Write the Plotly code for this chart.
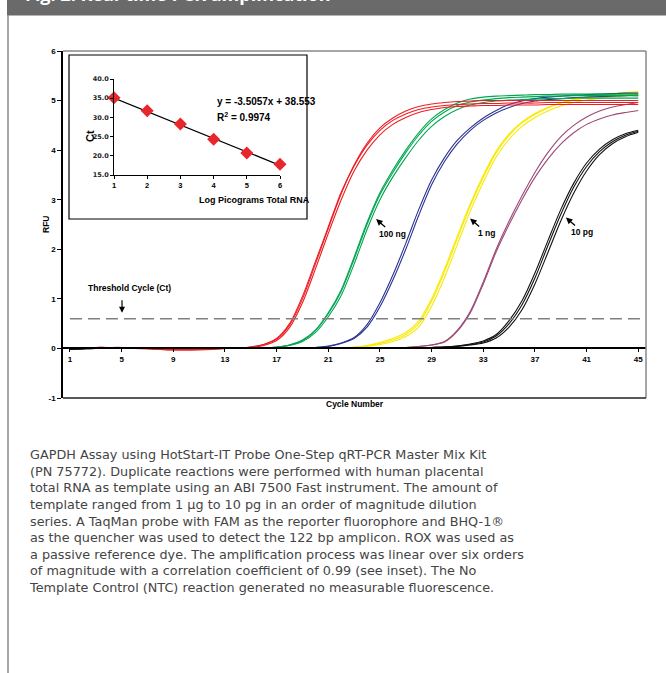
import plotly.graph_objects as go

# ---------------- data ----------------
cycles = list(range(1, 46))

red_a = [0.0, 0.01, 0.02, 0.02, 0.02, 0.01, 0.0, -0.02, -0.03, -0.03, -0.03, -0.02, 0.0, 0.01, 0.03,
         0.08, 0.2, 0.5, 1.05, 1.75, 2.45, 3.15, 3.68, 4.1, 4.4, 4.6, 4.73, 4.82, 4.87, 4.9,
         4.92, 4.93, 4.94, 4.94, 4.95, 4.95, 4.95, 4.96, 4.96, 4.96, 4.96, 4.96, 4.96, 4.96, 4.96]
red_b = [0.0, 0.01, 0.02, 0.02, 0.01, 0.0, -0.01, -0.02, -0.03, -0.03, -0.02, -0.01, 0.0, 0.01, 0.02,
         0.06, 0.16, 0.42, 0.92, 1.6, 2.32, 3.0, 3.58, 4.0, 4.31, 4.52, 4.66, 4.76, 4.82, 4.86,
         4.88, 4.89, 4.9, 4.9, 4.91, 4.91, 4.91, 4.92, 4.92, 4.92, 4.92, 4.92, 4.92, 4.92, 4.92]
red_c = [0.0, 0.0, 0.01, 0.01, 0.01, 0.0, 0.0, -0.01, -0.02, -0.02, -0.02, -0.01, 0.0, 0.01, 0.03,
         0.08, 0.19, 0.47, 1.0, 1.7, 2.42, 3.12, 3.7, 4.14, 4.45, 4.65, 4.79, 4.88, 4.93, 4.96,
         4.98, 4.99, 5.0, 5.0, 5.0, 5.0, 5.0, 5.0, 5.0, 5.0, 5.0, 5.0, 5.0, 5.0, 5.0]

green_a = [0.0] * 15 + [0.01, 0.03, 0.07, 0.16, 0.36, 0.7, 1.15, 1.8, 2.5, 3.1, 3.55, 3.95, 4.3, 4.58, 4.77,
                        4.9, 4.97, 5.01, 5.04, 5.06, 5.07, 5.08, 5.09, 5.09, 5.1, 5.1, 5.1, 5.1, 5.1, 5.1]
green_b = [0.0] * 15 + [0.01, 0.02, 0.06, 0.14, 0.32, 0.64, 1.07, 1.7, 2.4, 3.0, 3.46, 3.85, 4.2, 4.48, 4.68,
                        4.82, 4.91, 4.96, 4.99, 5.01, 5.02, 5.03, 5.04, 5.04, 5.05, 5.05, 5.05, 5.05, 5.05, 5.05]
green_c = [0.0] * 15 + [0.01, 0.03, 0.07, 0.17, 0.37, 0.72, 1.18, 1.84, 2.54, 3.14, 3.6, 4.0, 4.35, 4.63, 4.82,
                        4.95, 5.03, 5.07, 5.09, 5.1, 5.11, 5.12, 5.12, 5.13, 5.13, 5.13, 5.13, 5.13, 5.13, 5.13]

blue_a = [0.0] * 18 + [0.01, 0.02, 0.05, 0.11, 0.22, 0.48, 0.92, 1.48, 2.12, 2.8, 3.4, 3.85,
                       4.2, 4.45, 4.65, 4.8, 4.92, 4.99, 5.04, 5.07, 5.09, 5.11, 5.12, 5.13, 5.14, 5.15, 5.15]
blue_b = [0.0] * 18 + [0.01, 0.02, 0.04, 0.1, 0.2, 0.43, 0.84, 1.38, 2.0, 2.68, 3.3, 3.77,
                       4.13, 4.4, 4.6, 4.75, 4.86, 4.94, 4.99, 5.02, 5.04, 5.06, 5.07, 5.08, 5.09, 5.1, 5.1]

yellow_a = [0.02, 0.01] + [0.0] * 19 + [0.01, 0.02, 0.05, 0.1, 0.17, 0.28, 0.5, 0.95, 1.55,
                                        2.22, 2.88, 3.45, 3.95, 4.3, 4.55, 4.72, 4.85, 4.95, 5.02, 5.07, 5.11, 5.14, 5.16, 5.18]
yellow_b = [0.01, 0.0] + [0.0] * 19 + [0.01, 0.02, 0.04, 0.08, 0.14, 0.24, 0.43, 0.85, 1.43,
                                       2.1, 2.77, 3.35, 3.86, 4.22, 4.48, 4.66, 4.79, 4.89, 4.96, 5.01, 5.05, 5.08, 5.1, 5.12]
yellow_c = [0.0] * 21 + [0.01, 0.03, 0.06, 0.12, 0.2, 0.32, 0.55, 1.0, 1.6,
                         2.27, 2.92, 3.49, 3.98, 4.33, 4.57, 4.74, 4.86, 4.95, 5.01, 5.06, 5.1, 5.12, 5.14, 5.15]

purple_a = [0.0] * 25 + [0.01, 0.02, 0.04, 0.07, 0.13,
                         0.35, 0.72, 1.3, 1.95, 2.5, 3.0, 3.45, 3.82, 4.12, 4.35, 4.52, 4.63, 4.71, 4.76, 4.8]
purple_b = [0.0] * 25 + [0.01, 0.02, 0.04, 0.07, 0.14,
                         0.37, 0.75, 1.34, 2.0, 2.57, 3.08, 3.55, 3.95, 4.27, 4.5, 4.67, 4.79, 4.87, 4.92, 4.96]

black_a = [-0.02, -0.01] + [0.0] * 25 + [0.01, 0.02, 0.03,
                                         0.05, 0.08, 0.13, 0.25, 0.5, 0.88, 1.42, 2.07, 2.7, 3.25, 3.67, 3.97, 4.17, 4.3, 4.38]
black_b = [-0.02, -0.01] + [0.0] * 25 + [0.01, 0.02, 0.03,
                                         0.04, 0.07, 0.11, 0.21, 0.43, 0.78, 1.3, 1.93, 2.57, 3.13, 3.58, 3.91, 4.13, 4.27, 4.36]
black_c = [-0.01, 0.0] + [0.0] * 25 + [0.01, 0.02, 0.03,
                                       0.05, 0.09, 0.15, 0.28, 0.56, 0.96, 1.52, 2.17, 2.8, 3.33, 3.74, 4.02, 4.21, 4.33, 4.4]

threshold_rfu = 0.6
x_tick_vals = [1, 5, 9, 13, 17, 21, 25, 29, 33, 37, 41, 45]
y_tick_vals = [-1, 0, 1, 2, 3, 4, 5, 6]

# inset standard curve
log_pg = [1, 2, 3, 4, 5, 6]
ct_values = [35.1, 31.7, 28.3, 24.3, 20.7, 17.8]
fit_slope = -3.5057
fit_intercept = 38.553
fit_r2 = 0.9974
inset_y_ticks = [15, 20, 25, 30, 35, 40]

caption_lines = [
    "GAPDH Assay using HotStart-IT Probe One-Step qRT-PCR Master Mix Kit",
    "(PN 75772). Duplicate reactions were performed with human placental",
    "total RNA as template using an ABI 7500 Fast instrument. The amount of",
    "template ranged from 1 µg to 10 pg in an order of magnitude dilution",
    "series. A TaqMan probe with FAM as the reporter fluorophore and BHQ-1®",
    "as the quencher was used to detect the 122 bp amplicon. ROX was used as",
    "a passive reference dye. The amplification process was linear over six orders",
    "of magnitude with a correlation coefficient of 0.99 (see inset). The No",
    "Template Control (NTC) reaction generated no measurable fluorescence.",
]

# ---------------- layout geometry (pixels) ----------------
W, H = 666, 673
L, R, T, B = 63, 646, 51, 398
PW, PH = R - L, B - T


def px(xp):
    return (xp - L) / PW


def py(yp):
    return (B - yp) / PH


COL_RED = "#ee1d23"
COL_GREEN = "#00a650"
COL_BLUE = "#2b3390"
COL_YELLOW = "#f7ea00"
COL_PURPLE = "#9c4877"
COL_BLACK = "#111111"

series = [
    (black_a, COL_BLACK), (black_b, COL_BLACK), (black_c, COL_BLACK),
    (purple_a, COL_PURPLE), (purple_b, COL_PURPLE),
    (yellow_a, COL_YELLOW), (yellow_b, COL_YELLOW), (yellow_c, COL_YELLOW),
    (blue_a, COL_BLUE), (blue_b, COL_BLUE),
    (green_a, COL_GREEN), (green_b, COL_GREEN), (green_c, COL_GREEN),
    (red_a, COL_RED), (red_b, COL_RED), (red_c, COL_RED),
]

fig = go.Figure()
for vals, col in series:
    fig.add_trace(go.Scatter(x=cycles, y=vals, mode="lines",
                             line=dict(color=col, width=1.1, shape="spline", smoothing=0.8),
                             showlegend=False, hoverinfo="skip", xaxis="x", yaxis="y"))

# inset
fig.add_trace(go.Scatter(x=[log_pg[0], log_pg[-1]],
                         y=[fit_slope * log_pg[0] + fit_intercept, fit_slope * log_pg[-1] + fit_intercept],
                         mode="lines", line=dict(color="black", width=1.3),
                         showlegend=False, hoverinfo="skip", xaxis="x2", yaxis="y2", cliponaxis=False))
fig.add_trace(go.Scatter(x=log_pg, y=ct_values, mode="markers",
                         marker=dict(symbol="diamond", size=10, color="#e8262b"),
                         showlegend=False, hoverinfo="skip", xaxis="x2", yaxis="y2", cliponaxis=False))

BOLD = "Liberation Sans"
tickfont = dict(family=BOLD, size=8, color="black")

shapes = [
    # header bar
    dict(type="rect", xref="paper", yref="paper", x0=px(7), x1=px(700), y0=py(15.5), y1=py(-5),
         fillcolor="#6a6a6b", line=dict(width=0), layer="below"),
    # outer left border
    dict(type="line", xref="paper", yref="paper", x0=px(8), x1=px(8), y0=py(15), y1=py(680),
         line=dict(color="#8a8a8a", width=1.5)),
    # frame top and right (grey)
    dict(type="line", xref="paper", yref="paper", x0=0, x1=1, y0=1, y1=1,
         line=dict(color="#888888", width=1.5)),
    dict(type="line", xref="paper", yref="paper", x0=1, x1=1, y0=0, y1=1,
         line=dict(color="#888888", width=1.5)),
    # frame bottom
    dict(type="line", xref="paper", yref="paper", x0=0, x1=1, y0=0, y1=0,
         line=dict(color="#222222", width=1.5)),
    # threshold dashed line
    dict(type="line", xref="x", yref="y", x0=1, x1=45.5, y0=threshold_rfu, y1=threshold_rfu,
         line=dict(color="#808080", width=1.5, dash="12px,6px")),
    # inset box
    dict(type="rect", xref="paper", yref="paper", x0=px(69), x1=px(307), y0=py(219), y1=py(55),
         fillcolor="white", line=dict(color="black", width=1.2), layer="below"),
]

ann = []
# header text (mostly cut off at top)
ann.append(dict(text="<b>Fig. 2: Real-time PCR amplification</b>", xref="paper", yref="paper",
                x=px(23), y=py(-6.5), xanchor="left", yanchor="middle", showarrow=False,
                font=dict(family="Open Sans", size=18, color="white")))
# axis titles
ann.append(dict(text="<b>Cycle Number</b>", xref="paper", yref="paper", x=px(354.5), y=py(411.5),
                showarrow=False, font=dict(family=BOLD, size=8.5, color="black")))
ann.append(dict(text="<b>RFU</b>", xref="paper", yref="paper", x=px(39), y=py(225), textangle=-90,
                showarrow=False, font=dict(family=BOLD, size=8.5, color="black")))
# threshold label
ann.append(dict(text="<b>Threshold Cycle (Ct)</b>", xref="x", yref="y", x=5.57, y=1.22,
                showarrow=False, font=dict(family=BOLD, size=8.5, color="black")))
ann.append(dict(text="", xref="x", yref="y", x=5.03, y=0.72, ax=0, ay=-14,
                showarrow=True, arrowhead=2, arrowsize=1, arrowwidth=1.2, arrowcolor="black", standoff=0))
# curve labels with arrows pointing at the curves
for label, hx, hy in [("100 ng", 24.7, 2.61), ("1 ng", 31.98, 2.62), ("10 pg", 39.4, 2.64)]:
    ann.append(dict(text="<b>%s</b>" % label, xref="x", yref="y", x=hx, y=hy,
                    ax=16.5, ay=14.5, showarrow=True, arrowhead=2, arrowsize=1, arrowwidth=1.3,
                    arrowcolor="black", standoff=0,
                    font=dict(family=BOLD, size=8.5, color="black")))
# inset texts
ann.append(dict(text="<b>y = %.4fx + %.3f</b>" % (fit_slope, fit_intercept), xref="paper", yref="paper",
                x=px(214.5), y=py(94.3), showarrow=False, font=dict(family=BOLD, size=10, color="black")))
ann.append(dict(text="<b>R<sup>2</sup> = %.4f</b>" % fit_r2, xref="paper", yref="paper",
                x=px(215), y=py(109.3), showarrow=False, font=dict(family=BOLD, size=10, color="black")))
ann.append(dict(text="<b>Ct</b>", xref="paper", yref="paper", x=px(82), y=py(128), textangle=-90,
                showarrow=False, font=dict(family=BOLD, size=11, color="black")))
ann.append(dict(text="<b>Log Picograms Total RNA</b>", xref="paper", yref="paper", x=px(197), y=py(200),
                showarrow=False, font=dict(family=BOLD, size=9, color="black")))
# caption (one text block, 9 lines)
ann.append(dict(text="<br>".join(caption_lines), xref="paper", yref="paper",
                x=px(27), y=py(444.5), xanchor="left", yanchor="top", align="left", showarrow=False,
                font=dict(family="DejaVu Sans", size=12.8, color="#444444")))

fig.update_layout(
    width=W, height=H,
    margin=dict(l=L, r=W - R, t=T, b=H - B, pad=0),
    paper_bgcolor="white", plot_bgcolor="white",
    showlegend=False,
    xaxis=dict(range=[0.46, 45.6], anchor="free", position=py(348.3), domain=[0, 1],
               tickvals=x_tick_vals, ticktext=["<b>%d</b>" % v for v in x_tick_vals],
               ticks="outside", ticklen=3, tickcolor="black", showline=True, linecolor="black", linewidth=1.5,
               showgrid=False, zeroline=False, tickfont=tickfont, fixedrange=True),
    yaxis=dict(range=[-1, 6], domain=[0, 1], anchor="x",
               tickvals=y_tick_vals, ticktext=["<b>%d</b>" % v for v in y_tick_vals],
               ticks="outside", ticklen=4, tickcolor="black", showline=True, linecolor="black", linewidth=1.5,
               showgrid=False, zeroline=False, tickfont=tickfont, fixedrange=True),
    xaxis2=dict(domain=[px(114), px(280)], range=[1, 6], anchor="y2",
                tickvals=log_pg, ticktext=["<b>%d</b>" % v for v in log_pg],
                ticks="outside", ticklen=3, tickcolor="black", showline=True, linecolor="black", linewidth=1,
                showgrid=False, zeroline=False, tickfont=dict(family=BOLD, size=7.5, color="black")),
    yaxis2=dict(domain=[py(175), py(79)], range=[15, 40], anchor="x2",
                tickvals=inset_y_ticks, ticktext=["<b>%.1f</b>" % v for v in inset_y_ticks],
                ticks="outside", ticklen=3, tickcolor="black", showline=True, linecolor="black", linewidth=1,
                showgrid=False, zeroline=False, tickfont=dict(family="DejaVu Sans", size=6.5, color="#222")),
    shapes=shapes,
    annotations=ann,
)

fig.write_html("out.html", config={"displayModeBar": False},
               post_script="document.body.style.margin='0';document.body.style.overflow='hidden';")
